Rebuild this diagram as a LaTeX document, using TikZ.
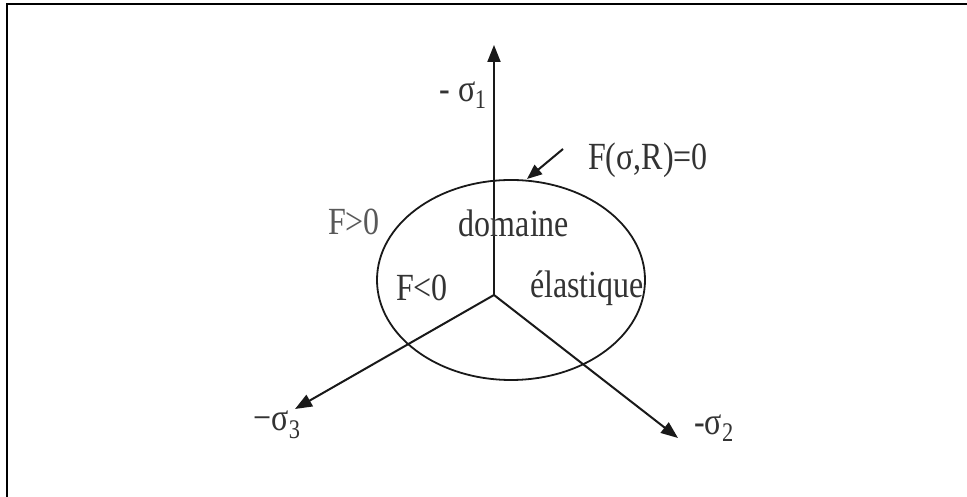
\documentclass[tikz,border=0pt]{standalone}
\usepackage{fontspec}
\setmainfont{Liberation Serif}
\usepackage{graphicx}
\usetikzlibrary{arrows.meta}
\tikzset{
  lbl/.style={inner sep=0pt, text=black!80, font=\fontsize{32}{36}\selectfont},
  axis/.style={line width=2pt, draw=black!90, -{Triangle[length=17pt,width=13pt]}},
  frame/.style={line width=2.2pt, draw=black}
}
\newcommand{\vs}[1]{\scalebox{1}[1.2]{#1}}
\begin{document}
\begin{tikzpicture}[x=1pt,y=1pt]
\useasboundingbox (0,0) rectangle (967,497);
\fill[white] (0,0) rectangle (967,497);
% frame (only top and left visible)
\draw[frame] (7,-10) -- (7,493) -- (980,493);
% coordinates
\coordinate (O) at (494,202);
\coordinate (s1) at (494,452);
\coordinate (s3) at (295,88);
\coordinate (s2) at (678,59);
\coordinate (pf) at (563,348);
\coordinate (pt) at (527,318);
% ellipse
\draw[line width=1.8pt, draw=black!90] (511,217) ellipse [x radius=134, y radius=100];
% axes
\draw[axis] (O) -- (s1);
\draw[axis] (O) -- (s3);
\draw[axis] (O) -- (s2);
\draw[axis, -{Triangle[length=15pt,width=12pt]}] (pf) -- (pt);
% labels
\node[lbl] (l1) at (463,402) {\vs{- σ\textsubscript{\kern-0.5pt1}}};
\node[lbl, anchor=west] (lF) at (588,337) {\vs{F(σ,R)=0}};
\node[lbl, text=black!65] (lgt) at (354,275) {\vs{F>0}};
\node[lbl] (ldom) at (514,274) {\vs{domaine}};
\node[lbl] (llt) at (422,209) {\vs{F<0}};
\node[lbl] (lela) at (587,209) {\vs{élastique}};
\node[lbl] (l3) at (277,72) {\vs{−σ\textsubscript{3}}};
\node[lbl] (l2) at (714,69) {\vs{-σ\textsubscript{2}}};
\end{tikzpicture}
\end{document}
